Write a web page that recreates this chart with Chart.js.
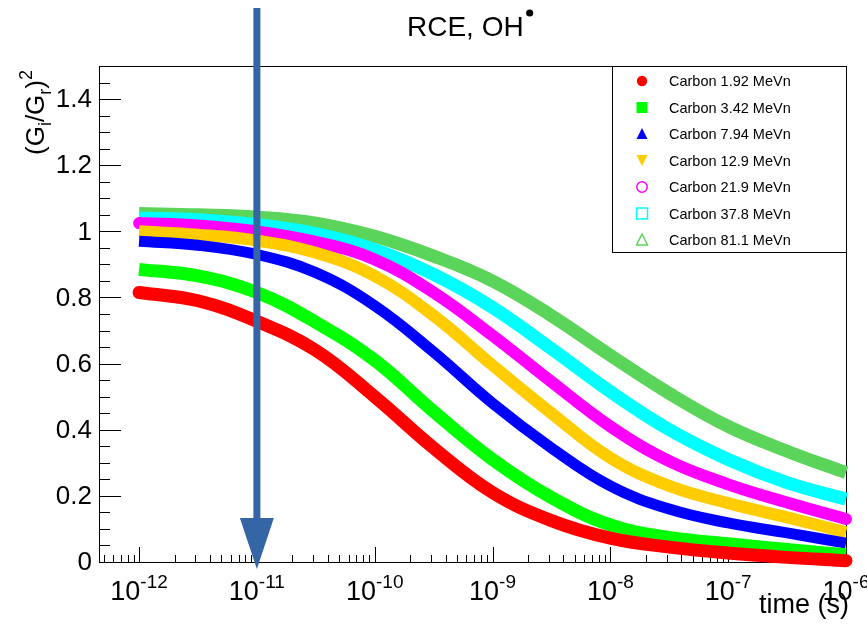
<!DOCTYPE html>
<html>
<head>
<meta charset="utf-8">
<script src="https://cdn.jsdelivr.net/npm/chart.js@4/dist/chart.umd.min.js"></script>
<style>
  html, body { margin: 0; padding: 0; background: #ffffff; }
  #wrap { width: 867px; height: 624px; }
</style>
</head>
<body>
<div id="wrap"><canvas id="c" width="867" height="624"></canvas></div>
<script>
// ---- data ----
const times = [1e-12, 3.162e-12, 1e-11, 3.162e-11, 1e-10, 3.162e-10, 1e-9, 3.162e-9, 1e-8, 3.162e-8, 1e-7, 3.162e-7, 1e-6];
const carbon192 = [0.815, 0.790, 0.728, 0.640, 0.500, 0.345, 0.210, 0.125, 0.072, 0.045, 0.027, 0.014, 0.004];
const carbon342 = [0.885, 0.865, 0.815, 0.725, 0.610, 0.455, 0.310, 0.195, 0.112, 0.074, 0.055, 0.038, 0.022];
const carbon794 = [0.970, 0.958, 0.930, 0.875, 0.775, 0.635, 0.480, 0.345, 0.230, 0.160, 0.118, 0.088, 0.057];
const carbon129 = [1.000, 0.990, 0.972, 0.935, 0.865, 0.745, 0.595, 0.450, 0.315, 0.230, 0.178, 0.135, 0.090];
const carbon219 = [1.025, 1.018, 1.000, 0.968, 0.915, 0.815, 0.685, 0.545, 0.410, 0.305, 0.235, 0.180, 0.130];
const carbon378 = [1.040, 1.035, 1.020, 0.993, 0.945, 0.870, 0.770, 0.645, 0.515, 0.400, 0.310, 0.240, 0.190];
const carbon811 = [1.054, 1.050, 1.043, 1.025, 0.985, 0.925, 0.850, 0.745, 0.625, 0.510, 0.410, 0.335, 0.270];
const seriesLabels = ["Carbon 1.92 MeVn", "Carbon 3.42 MeVn", "Carbon 7.94 MeVn", "Carbon 12.9 MeVn", "Carbon 21.9 MeVn", "Carbon 37.8 MeVn", "Carbon 81.1 MeVn"];
const yTickValues = [0, 0.2, 0.4, 0.6, 0.8, 1.0, 1.2, 1.4];
const yTickLabels = ["0", "0.2", "0.4", "0.6", "0.8", "1", "1.2", "1.4"];
const xTickExponents = [-12, -11, -10, -9, -8, -7, -6];
const arrowTime = 1e-11;
const titleText = "RCE, OH";
const xTitle = "time (s)";

// ---- styles ----
const seriesValues = [carbon192, carbon342, carbon794, carbon129, carbon219, carbon378, carbon811];
const colors = ["#ff0000", "#00ff00", "#0000ff", "#ffcc00", "#ff00ff", "#00ffff", "#5ad55a"];
const markers = ["circle", "square", "triUp", "triDown", "circleOpen", "squareOpen", "triOpen"];
const bandWidths = [13, 13, 11, 12, 12, 13, 13];
const FONT = '"Liberation Sans", Arial, Helvetica, sans-serif';

const datasets = seriesValues.map((vals, i) => ({
  label: seriesLabels[i],
  data: times.map((t, k) => ({ x: t, y: vals[k] })),
  showLine: true,
  borderColor: colors[i],
  backgroundColor: colors[i],
  borderWidth: bandWidths[i],
  borderCapStyle: (i === 0 || i === 4) ? 'round' : 'butt',
  borderJoinStyle: 'round',
  tension: 0.4,
  pointRadius: 0,
  clip: false
}));

function drawMarker(ctx, type, x, y, color) {
  ctx.save();
  ctx.fillStyle = color; ctx.strokeStyle = color; ctx.lineWidth = 1.5;
  const s = 5.5;
  ctx.beginPath();
  if (type === 'circle' || type === 'circleOpen') {
    ctx.arc(x, y, 5.2, 0, Math.PI * 2);
  } else if (type === 'square' || type === 'squareOpen') {
    ctx.rect(x - s, y - s, 2 * s, 2 * s);
  } else if (type === 'triUp' || type === 'triOpen') {
    ctx.moveTo(x, y - s - 0.5); ctx.lineTo(x + s, y + s - 0.5); ctx.lineTo(x - s, y + s - 0.5); ctx.closePath();
  } else if (type === 'triDown') {
    ctx.moveTo(x, y + s); ctx.lineTo(x + s, y - s); ctx.lineTo(x - s, y - s); ctx.closePath();
  }
  if (type.endsWith('Open')) ctx.stroke(); else ctx.fill();
  ctx.restore();
}

const rootStyle = {
  id: 'rootStyle',
  beforeDatasetsDraw(chart) {
    const ctx = chart.ctx, a = chart.chartArea;
    const xs = chart.scales.x, ys = chart.scales.y;
    ctx.save();
    ctx.strokeStyle = '#000'; ctx.lineWidth = 1;
    ctx.strokeRect(a.left + 0.5, a.top + 0.5, a.right - a.left, a.bottom - a.top);
    ctx.beginPath();
    for (let v = 0; v <= 1.5001; v += 0.05) {
      const p = Math.round(ys.getPixelForValue(v)) + 0.5;
      const major = Math.abs(v / 0.2 - Math.round(v / 0.2)) < 1e-6;
      ctx.moveTo(a.left, p); ctx.lineTo(a.left + (major ? 22 : 11), p);
    }
    for (let e = -13; e <= -6; e++) {
      for (let m = 1; m <= 9; m++) {
        const t = m * Math.pow(10, e);
        if (t < xs.min * 0.999 || t > xs.max * 1.001) continue;
        const p = Math.round(xs.getPixelForValue(t)) + 0.5;
        ctx.moveTo(p, a.bottom); ctx.lineTo(p, a.bottom - (m === 1 ? 15 : 7));
      }
    }
    ctx.stroke();
    ctx.restore();
  },
  afterDatasetsDraw(chart) {
    const ctx = chart.ctx, a = chart.chartArea;
    const xs = chart.scales.x, ys = chart.scales.y;
    ctx.save();
    ctx.fillStyle = '#000';
    ctx.font = '26px ' + FONT;
    ctx.textAlign = 'right'; ctx.textBaseline = 'middle';
    yTickValues.forEach((v, i) => {
      ctx.fillText(yTickLabels[i], a.left - 7, ys.getPixelForValue(v) + 1);
    });
    ctx.textBaseline = 'alphabetic'; ctx.textAlign = 'left';
    xTickExponents.forEach(e => {
      const p = xs.getPixelForValue(Math.pow(10, e));
      ctx.font = '27px ' + FONT;
      const w1 = ctx.measureText('10').width;
      ctx.font = '19px ' + FONT;
      const sup = String(e);
      const w2 = ctx.measureText(sup).width;
      const x0 = p - (w1 + w2) / 2;
      ctx.font = '27px ' + FONT;
      ctx.fillText('10', x0, 600);
      ctx.font = '19px ' + FONT;
      ctx.fillText(sup, x0 + w1, 588);
    });
    ctx.font = '27px ' + FONT;
    ctx.textAlign = 'right';
    ctx.fillText(xTitle, 849, 613);
    ctx.textAlign = 'left';
    ctx.font = '28px ' + FONT;
    ctx.fillText(titleText, 407, 36);
    const tw = ctx.measureText(titleText).width;
    ctx.beginPath(); ctx.arc(407 + tw + 6, 13, 3.6, 0, Math.PI * 2); ctx.fill();
    ctx.save();
    ctx.translate(44, 155);
    ctx.rotate(-Math.PI / 2);
    let cx = 0;
    const part = (txt, size, dy) => {
      ctx.font = size + 'px ' + FONT;
      ctx.fillText(txt, cx, dy);
      cx += ctx.measureText(txt).width;
    };
    part('(G', 26, 0); part('i', 18, 7); part('/G', 26, 0); part('r', 18, 7); part(')', 26, 0); part('2', 18, -12);
    ctx.restore();
    const lx = 612, ly = a.top, lr = a.right, lb = 252;
    ctx.fillStyle = '#fff';
    ctx.fillRect(lx, ly, lr - lx, lb - ly);
    ctx.strokeStyle = '#000'; ctx.lineWidth = 1;
    ctx.strokeRect(lx + 0.5, ly + 0.5, lr - lx, lb - ly);
    ctx.font = '14.5px ' + FONT;
    ctx.textAlign = 'left'; ctx.textBaseline = 'middle';
    chart.data.datasets.forEach((ds, i) => {
      const ry = 81 + i * 26.5;
      drawMarker(ctx, markers[i], 642, ry, colors[i]);
      ctx.fillStyle = '#000';
      ctx.fillText(ds.label, 669, ry + 1);
    });
    const ax = xs.getPixelForValue(arrowTime);
    ctx.fillStyle = '#3465a5';
    ctx.fillRect(ax - 3.5, 8, 7, 512);
    ctx.beginPath();
    ctx.moveTo(ax - 17, 518); ctx.lineTo(ax + 17, 518); ctx.lineTo(ax, 569); ctx.closePath();
    ctx.fill();
    ctx.restore();
  }
};

new Chart(document.getElementById('c'), {
  type: 'scatter',
  data: { datasets },
  options: {
    responsive: false,
    animation: false,
    devicePixelRatio: 1,
    layout: { padding: { left: 99, right: 21, top: 66, bottom: 62 } },
    plugins: { legend: { display: false }, tooltip: { enabled: false }, title: { display: false } },
    scales: {
      x: { type: 'logarithmic', min: Math.pow(10, -12.34), max: 1e-6, display: false },
      y: { type: 'linear', min: 0, max: 1.5, display: false }
    }
  },
  plugins: [rootStyle]
});
</script>
</body>
</html>
